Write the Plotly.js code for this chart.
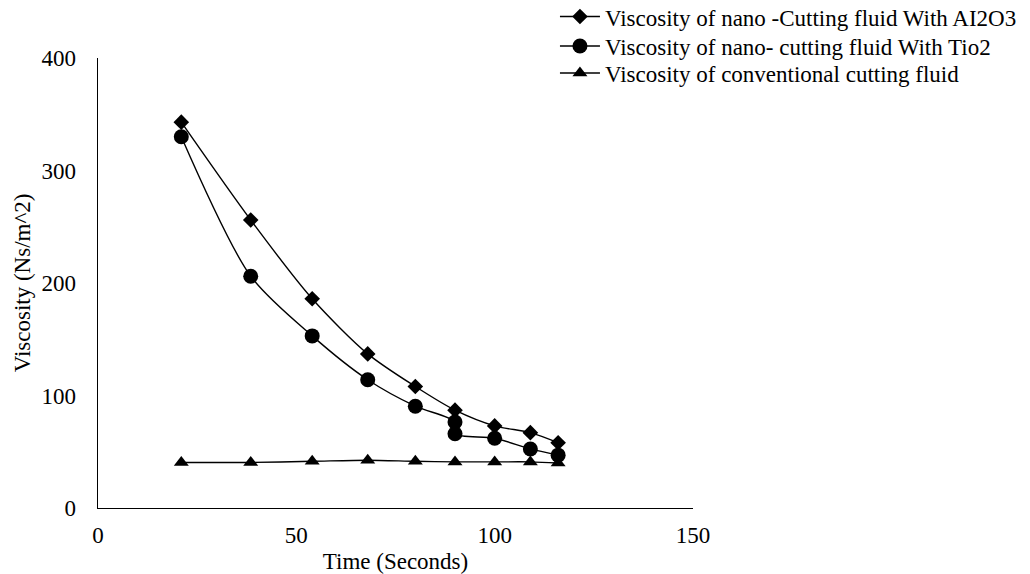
<!DOCTYPE html>
<html>
<head>
<meta charset="utf-8">
<script src="https://cdn.plot.ly/plotly-3.0.1.min.js"></script>
<style>html,body{margin:0;padding:0;background:#fff;}#chart{width:1030px;height:574px;}</style>
</head>
<body>
<div id="chart"></div>
<script>
const seriesNames = [
  "Viscosity of nano -Cutting fluid With AI2O3",
  "Viscosity of nano- cutting fluid With Tio2",
  "Viscosity of conventional cutting fluid"
];
const timeAl2O3 = [21, 38.5, 54, 68, 80, 90, 100, 109, 116];
const viscAl2O3 = [343, 256, 186, 137, 108, 87, 73, 67, 58];
const timeTiO2 = [21, 38.5, 54, 68, 80, 90, 90, 100, 109, 116];
const viscTiO2 = [330, 206, 153, 114, 90.5, 76.5, 66, 62, 52.5, 47];
const timeConv = [21, 38.5, 54, 68, 80, 90, 100, 109, 116];
const viscConv = [40.5, 40.5, 41.5, 42.5, 41.5, 41, 41, 41, 40];
const xTicks = [0, 50, 100, 150];
const yTicks = [0, 100, 200, 300, 400];

const font = "Liberation Serif, Times New Roman, serif";
const fs = 23;
const lineStyle = {color: "#000", width: 1.4, shape: "spline", smoothing: 0.8};

const traces = [
  {x: timeAl2O3, y: viscAl2O3, name: seriesNames[0], mode: "lines+markers", type: "scatter", legend: "legend",
   line: lineStyle, marker: {symbol: "diamond", size: 12, color: "#000"}},
  {x: timeTiO2, y: viscTiO2, name: seriesNames[1], mode: "lines+markers", type: "scatter", legend: "legend2",
   line: lineStyle, marker: {symbol: "circle", size: 15, color: "#000"}},
  {x: timeConv, y: viscConv, name: seriesNames[2], mode: "lines+markers", type: "scatter", legend: "legend3",
   line: lineStyle, marker: {symbol: "triangle-up", size: 13, color: "#000"}}
];

function legendAt(yPaper) {
  return {x: 0.768, y: yPaper, xanchor: "left", yanchor: "middle", itemwidth: 40,
          font: {family: font, size: fs, color: "#000"}, bgcolor: "rgba(0,0,0,0)", borderwidth: 0};
}

const layout = {
  width: 1030, height: 574,
  margin: {l: 98, r: 337, t: 58, b: 66, autoexpand: false},
  paper_bgcolor: "#fff", plot_bgcolor: "#fff",
  font: {family: font, size: fs, color: "#000"},
  showlegend: true,
  legend: legendAt(1.092),
  legend2: legendAt(1.0267),
  legend3: legendAt(0.9667),
  xaxis: {range: [0, 150], tickvals: xTicks, ticktext: xTicks.map(String), showgrid: false, zeroline: false,
          showline: true, linecolor: "#000", linewidth: 1.4, ticks: "", ticklen: 0, ticklabelstandoff: 6,
          automargin: false,
          title: {text: "Time (Seconds)", font: {family: font, size: fs}, standoff: 8}},
  yaxis: {range: [0, 400], tickvals: yTicks, ticktext: yTicks.map(String), showgrid: false, zeroline: false,
          showline: true, linecolor: "#000", linewidth: 1.4, ticks: "", ticklen: 0, ticklabelstandoff: 16,
          automargin: false,
          title: {text: "Viscosity (Ns/m^2)", font: {family: font, size: fs}, standoff: 4}}
};

Plotly.newPlot("chart", traces, layout, {displayModeBar: false, staticPlot: true});
</script>
</body>
</html>
